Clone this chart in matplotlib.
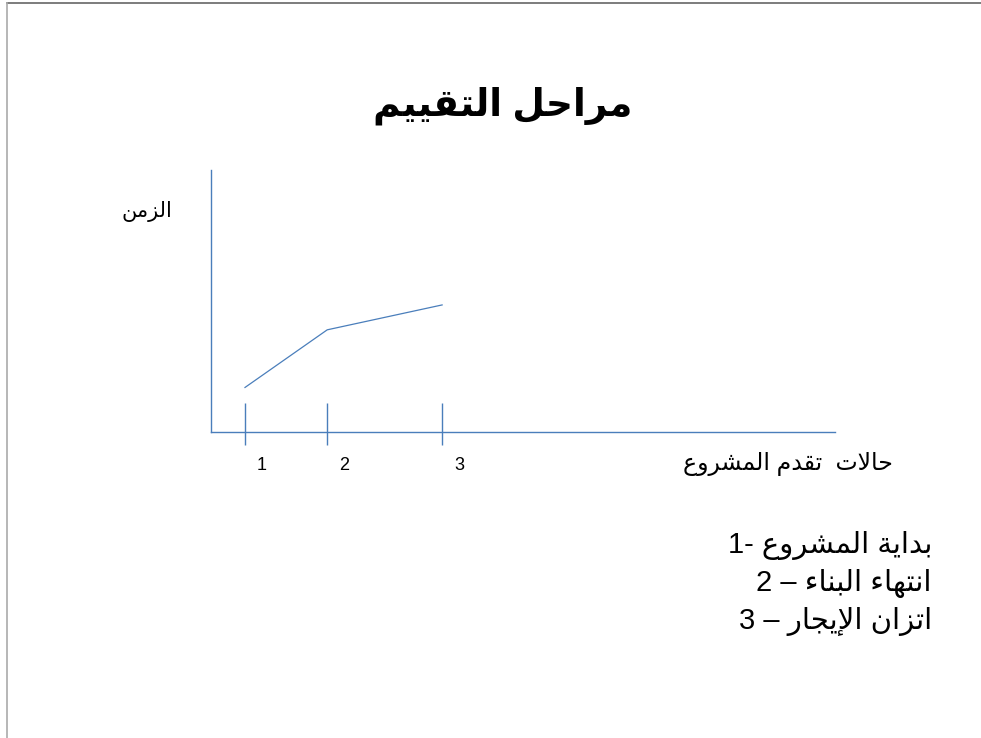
import matplotlib
matplotlib.use("Agg")
import matplotlib.pyplot as plt
from matplotlib.lines import Line2D

# Arabic shaping: matplotlib has no text shaping, so map letters to
# presentation forms (isolated, final, initial, medial) and reverse.
FORMS = {
    'ا': ('\uFE8D', '\uFE8E', None, None),
    'إ': ('\uFE87', '\uFE88', None, None),
    'ب': ('\uFE8F', '\uFE90', '\uFE91', '\uFE92'),
    'ة': ('\uFE93', '\uFE94', None, None),
    'ت': ('\uFE95', '\uFE96', '\uFE97', '\uFE98'),
    'ج': ('\uFE9D', '\uFE9E', '\uFE9F', '\uFEA0'),
    'ح': ('\uFEA1', '\uFEA2', '\uFEA3', '\uFEA4'),
    'د': ('\uFEA9', '\uFEAA', None, None),
    'ر': ('\uFEAD', '\uFEAE', None, None),
    'ز': ('\uFEAF', '\uFEB0', None, None),
    'ش': ('\uFEB5', '\uFEB6', '\uFEB7', '\uFEB8'),
    'ع': ('\uFEC9', '\uFECA', '\uFECB', '\uFECC'),
    'ق': ('\uFED5', '\uFED6', '\uFED7', '\uFED8'),
    'ل': ('\uFEDD', '\uFEDE', '\uFEDF', '\uFEE0'),
    'م': ('\uFEE1', '\uFEE2', '\uFEE3', '\uFEE4'),
    'ن': ('\uFEE5', '\uFEE6', '\uFEE7', '\uFEE8'),
    'ه': ('\uFEE9', '\uFEEA', '\uFEEB', '\uFEEC'),
    'و': ('\uFEED', '\uFEEE', None, None),
    'ي': ('\uFEF1', '\uFEF2', '\uFEF3', '\uFEF4'),
    'ء': ('\uFE80', None, None, None),
}
LAM_ALEF = {'ا': ('\uFEFB', '\uFEFC'), 'إ': ('\uFEF9', '\uFEFA')}


def joins_left(c):
    return c in FORMS and FORMS[c][2] is not None


def joins_right(c):
    return c in FORMS and FORMS[c][1] is not None


def ar(s):
    out = []
    i = 0
    n = len(s)
    while i < n:
        c = s[i]
        if c not in FORMS:
            out.append(c)
            i += 1
            continue
        prev = s[i - 1] if i > 0 else None
        con_prev = prev is not None and joins_left(prev) and joins_right(c)
        if c == 'ل' and i + 1 < n and s[i + 1] in LAM_ALEF:
            lig = LAM_ALEF[s[i + 1]]
            out.append(lig[1] if con_prev else lig[0])
            i += 2
            continue
        nxt = s[i + 1] if i + 1 < n else None
        con_next = nxt is not None and joins_left(c) and joins_right(nxt)
        if con_prev and con_next:
            out.append(FORMS[c][3])
        elif con_prev:
            out.append(FORMS[c][1])
        elif con_next:
            out.append(FORMS[c][2])
        else:
            out.append(FORMS[c][0])
        i += 1
    return ''.join(reversed(out))


# data
title = 'مراحل التقييم'
y_label = 'الزمن'
x_label = 'حالات  تقدم المشروع'
stages = ['1', '2', '3']
stage_pos = [0.5, 1.71, 3.4]
time_values = [1.7, 3.9, 4.85]
legend_items = [('1- ', 'بداية المشروع'),
                ('2 – ', 'انتهاء البناء'),
                ('3 – ', 'اتزان الإيجار')]

W, H = 981, 738
blue = '#4a7ebb'
fonts = ['Liberation Sans', 'DejaVu Sans']

plt.rcParams['font.family'] = fonts
fig = plt.figure(figsize=(W / 100, H / 100), dpi=100)


def fx(px):
    return px / W


def fy(py):
    return 1 - py / H


# slide border
fig.add_artist(Line2D([fx(7), 1], [fy(3), fy(3)], color='#666666', lw=1.2))
fig.add_artist(Line2D([fx(7), fx(7)], [fy(3), 0], color='#aaaaaa', lw=1.2))

fig.text(fx(503), fy(106), ar(title), fontsize=27, fontweight='bold',
         ha='center', va='center')

ax = fig.add_axes([fx(211), fy(432), fx(835) - fx(211), fy(170) - fy(432)])
ax.set_xlim(0, 9.18)
ax.set_ylim(0, 10)
for side in ['top', 'right']:
    ax.spines[side].set_visible(False)
for side in ['left', 'bottom']:
    ax.spines[side].set_color(blue)
    ax.spines[side].set_linewidth(1.0)
ax.set_xticks([])
ax.set_yticks([])
ax.patch.set_visible(False)

ax.plot(stage_pos, time_values, color=blue, lw=0.9)
ax.vlines(stage_pos, -0.5, 1.1, color=blue, lw=1.0, clip_on=False)

for p, s in zip(stage_pos, stages):
    ax.annotate(s, (p, 0), xytext=(17, -34), textcoords='offset pixels',
                ha='center', va='center', fontsize=13)

fig.text(fx(172), fy(212), ar(y_label), fontsize=15, ha='right', va='center')
fig.text(fx(893), fy(464), ar(x_label), fontsize=17, ha='right', va='center')

for k, (num, txt) in enumerate(legend_items):
    fig.text(fx(932), fy(546 + 37.5 * k), num + ar(txt), fontsize=21,
             ha='right', va='center')

fig.savefig('out.png', dpi=100)
